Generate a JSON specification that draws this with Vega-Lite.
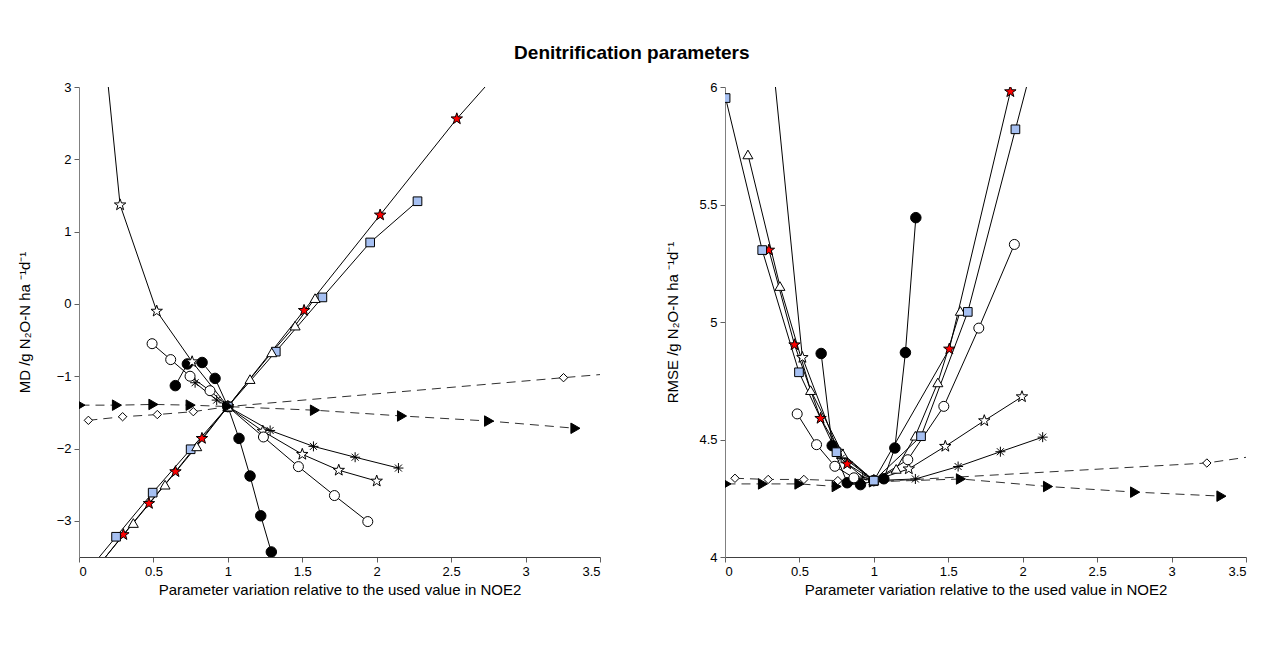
{
  "$schema": "https://vega.github.io/schema/vega-lite/v6.json",
  "background": "white",
  "padding": {"left": 17, "top": 44, "right": 5, "bottom": 5},
  "title": {"text": "Denitrification parameters", "fontSize": 19, "fontWeight": "bold", "font": "Liberation Sans", "anchor": "middle", "offset": 18, "color": "#000"},
  "config": {
    "view": {"stroke": null},
    "axis": {"grid": false, "labelFont": "Liberation Sans", "titleFont": "Liberation Sans", "labelFontSize": 13, "titleFontSize": 15, "titleFontWeight": "normal", "labelColor": "#000", "titleColor": "#000", "domainColor": "#808080", "tickColor": "#606060", "tickSize": 5, "labelPadding": 3},
    "concat": {"spacing": 64}
  },
  "data": {"values": [
      {"panel":"MD","param":"Dp","ratio":0.12,"val":-3.65},{"panel":"MD","param":"Dp","ratio":0.298,"val":-3.19},{"panel":"MD","param":"Dp","ratio":0.47,"val":-2.76},{"panel":"MD","param":"Dp","ratio":0.648,"val":-2.32},{"panel":"MD","param":"Dp","ratio":0.826,"val":-1.86},{"panel":"MD","param":"Dp","ratio":1,"val":-1.42},{"panel":"MD","param":"Dp","ratio":1.512,"val":-0.09},{"panel":"MD","param":"Dp","ratio":2.023,"val":1.23},{"panel":"MD","param":"Dp","ratio":2.538,"val":2.56},{"panel":"MD","param":"Dp","ratio":2.9,"val":3.4},
      {"panel":"MD","param":"WFPSc","ratio":0.647,"val":-1.13},{"panel":"MD","param":"WFPSc","ratio":0.728,"val":-0.83},{"panel":"MD","param":"WFPSc","ratio":0.827,"val":-0.81},{"panel":"MD","param":"WFPSc","ratio":0.914,"val":-1.03},{"panel":"MD","param":"WFPSc","ratio":1,"val":-1.42},{"panel":"MD","param":"WFPSc","ratio":1.075,"val":-1.86},{"panel":"MD","param":"WFPSc","ratio":1.149,"val":-2.38},{"panel":"MD","param":"WFPSc","ratio":1.221,"val":-2.93},{"panel":"MD","param":"WFPSc","ratio":1.292,"val":-3.43},
      {"panel":"MD","param":"KN","ratio":0.1,"val":5.0},{"panel":"MD","param":"KN","ratio":0.276,"val":1.37},{"panel":"MD","param":"KN","ratio":0.522,"val":-0.1},{"panel":"MD","param":"KN","ratio":0.76,"val":-0.8},{"panel":"MD","param":"KN","ratio":1,"val":-1.42},{"panel":"MD","param":"KN","ratio":1.235,"val":-1.76},{"panel":"MD","param":"KN","ratio":1.5,"val":-2.08},{"panel":"MD","param":"KN","ratio":1.745,"val":-2.3},{"panel":"MD","param":"KN","ratio":2.0,"val":-2.45},
      {"panel":"MD","param":"Q10d","ratio":0.78,"val":-1.09},{"panel":"MD","param":"Q10d","ratio":0.925,"val":-1.33},{"panel":"MD","param":"Q10d","ratio":1,"val":-1.42},{"panel":"MD","param":"Q10d","ratio":1.284,"val":-1.75},{"panel":"MD","param":"Q10d","ratio":1.575,"val":-1.97},{"panel":"MD","param":"Q10d","ratio":1.855,"val":-2.12},{"panel":"MD","param":"Q10d","ratio":2.146,"val":-2.27},
      {"panel":"MD","param":"cw","ratio":0.491,"val":-0.55},{"panel":"MD","param":"cw","ratio":0.616,"val":-0.77},{"panel":"MD","param":"cw","ratio":0.746,"val":-1.0},{"panel":"MD","param":"cw","ratio":0.88,"val":-1.2},{"panel":"MD","param":"cw","ratio":1,"val":-1.42},{"panel":"MD","param":"cw","ratio":1.239,"val":-1.84},{"panel":"MD","param":"cw","ratio":1.474,"val":-2.25},{"panel":"MD","param":"cw","ratio":1.716,"val":-2.65},{"panel":"MD","param":"cw","ratio":1.94,"val":-3.01},
      {"panel":"MD","param":"cN","ratio":0.0,"val":-3.84},{"panel":"MD","param":"cN","ratio":0.249,"val":-3.22},{"panel":"MD","param":"cN","ratio":0.495,"val":-2.61},{"panel":"MD","param":"cN","ratio":0.75,"val":-2.01},{"panel":"MD","param":"cN","ratio":1,"val":-1.42},{"panel":"MD","param":"cN","ratio":1.322,"val":-0.66},{"panel":"MD","param":"cN","ratio":1.635,"val":0.09},{"panel":"MD","param":"cN","ratio":1.956,"val":0.85},{"panel":"MD","param":"cN","ratio":2.274,"val":1.42},
      {"panel":"MD","param":"dN","ratio":0.063,"val":-1.61},{"panel":"MD","param":"dN","ratio":0.293,"val":-1.56},{"panel":"MD","param":"dN","ratio":0.526,"val":-1.53},{"panel":"MD","param":"dN","ratio":0.768,"val":-1.49},{"panel":"MD","param":"dN","ratio":1,"val":-1.42},{"panel":"MD","param":"dN","ratio":3.255,"val":-1.02},{"panel":"MD","param":"dN","ratio":4.0,"val":-0.89},
      {"panel":"MD","param":"r0","ratio":0.154,"val":-3.56},{"panel":"MD","param":"r0","ratio":0.365,"val":-3.03},{"panel":"MD","param":"r0","ratio":0.578,"val":-2.5},{"panel":"MD","param":"r0","ratio":0.791,"val":-1.97},{"panel":"MD","param":"r0","ratio":1,"val":-1.42},{"panel":"MD","param":"r0","ratio":1.149,"val":-1.04},{"panel":"MD","param":"r0","ratio":1.295,"val":-0.67},{"panel":"MD","param":"r0","ratio":1.452,"val":-0.3},{"panel":"MD","param":"r0","ratio":1.586,"val":0.08},
      {"panel":"MD","param":"Nc","ratio":0.01,"val":-1.4},{"panel":"MD","param":"Nc","ratio":0.255,"val":-1.4},{"panel":"MD","param":"Nc","ratio":0.5,"val":-1.39},{"panel":"MD","param":"Nc","ratio":0.75,"val":-1.4},{"panel":"MD","param":"Nc","ratio":1,"val":-1.42},{"panel":"MD","param":"Nc","ratio":1.585,"val":-1.47},{"panel":"MD","param":"Nc","ratio":2.17,"val":-1.55},{"panel":"MD","param":"Nc","ratio":2.755,"val":-1.62},{"panel":"MD","param":"Nc","ratio":3.335,"val":-1.72},
      {"panel":"RMSE","param":"Nc","ratio":0.01,"val":4.311},{"panel":"RMSE","param":"Nc","ratio":0.255,"val":4.311},{"panel":"RMSE","param":"Nc","ratio":0.5,"val":4.311},{"panel":"RMSE","param":"Nc","ratio":0.75,"val":4.3},{"panel":"RMSE","param":"Nc","ratio":1,"val":4.32},{"panel":"RMSE","param":"Nc","ratio":1.585,"val":4.332},{"panel":"RMSE","param":"Nc","ratio":2.17,"val":4.3},{"panel":"RMSE","param":"Nc","ratio":2.755,"val":4.276},{"panel":"RMSE","param":"Nc","ratio":3.335,"val":4.259},
      {"panel":"RMSE","param":"dN","ratio":0.067,"val":4.335},{"panel":"RMSE","param":"dN","ratio":0.29,"val":4.33},{"panel":"RMSE","param":"dN","ratio":0.53,"val":4.33},{"panel":"RMSE","param":"dN","ratio":0.758,"val":4.325},{"panel":"RMSE","param":"dN","ratio":1,"val":4.32},{"panel":"RMSE","param":"dN","ratio":3.237,"val":4.4},{"panel":"RMSE","param":"dN","ratio":4.0,"val":4.47},
      {"panel":"RMSE","param":"r0","ratio":0.154,"val":5.713},{"panel":"RMSE","param":"r0","ratio":0.369,"val":5.153},{"panel":"RMSE","param":"r0","ratio":0.575,"val":4.71},{"panel":"RMSE","param":"r0","ratio":0.79,"val":4.44},{"panel":"RMSE","param":"r0","ratio":1,"val":4.325},{"panel":"RMSE","param":"r0","ratio":1.15,"val":4.375},{"panel":"RMSE","param":"r0","ratio":1.279,"val":4.516},{"panel":"RMSE","param":"r0","ratio":1.43,"val":4.743},{"panel":"RMSE","param":"r0","ratio":1.581,"val":5.047},
      {"panel":"RMSE","param":"Dp","ratio":0.295,"val":5.306},{"panel":"RMSE","param":"Dp","ratio":0.467,"val":4.903},{"panel":"RMSE","param":"Dp","ratio":0.642,"val":4.59},{"panel":"RMSE","param":"Dp","ratio":0.821,"val":4.396},{"panel":"RMSE","param":"Dp","ratio":1,"val":4.325},{"panel":"RMSE","param":"Dp","ratio":1.507,"val":4.885},{"panel":"RMSE","param":"Dp","ratio":1.917,"val":5.98},
      {"panel":"RMSE","param":"WFPSc","ratio":0.646,"val":4.866},{"panel":"RMSE","param":"WFPSc","ratio":0.72,"val":4.474},{"panel":"RMSE","param":"WFPSc","ratio":0.821,"val":4.316},{"panel":"RMSE","param":"WFPSc","ratio":0.91,"val":4.308},{"panel":"RMSE","param":"WFPSc","ratio":1,"val":4.325},{"panel":"RMSE","param":"WFPSc","ratio":1.067,"val":4.333},{"panel":"RMSE","param":"WFPSc","ratio":1.141,"val":4.464},{"panel":"RMSE","param":"WFPSc","ratio":1.212,"val":4.87},{"panel":"RMSE","param":"WFPSc","ratio":1.282,"val":5.444},
      {"panel":"RMSE","param":"KN","ratio":0.276,"val":6.4},{"panel":"RMSE","param":"KN","ratio":0.52,"val":4.849},{"panel":"RMSE","param":"KN","ratio":0.76,"val":4.45},{"panel":"RMSE","param":"KN","ratio":1,"val":4.325},{"panel":"RMSE","param":"KN","ratio":1.235,"val":4.375},{"panel":"RMSE","param":"KN","ratio":1.48,"val":4.471},{"panel":"RMSE","param":"KN","ratio":1.742,"val":4.58},{"panel":"RMSE","param":"KN","ratio":1.995,"val":4.682},
      {"panel":"RMSE","param":"Q10d","ratio":0.78,"val":4.42},{"panel":"RMSE","param":"Q10d","ratio":0.925,"val":4.34},{"panel":"RMSE","param":"Q10d","ratio":1,"val":4.325},{"panel":"RMSE","param":"Q10d","ratio":1.279,"val":4.332},{"panel":"RMSE","param":"Q10d","ratio":1.566,"val":4.385},{"panel":"RMSE","param":"Q10d","ratio":1.85,"val":4.448},{"panel":"RMSE","param":"Q10d","ratio":2.134,"val":4.51},
      {"panel":"RMSE","param":"cw","ratio":0.485,"val":4.609},{"panel":"RMSE","param":"cw","ratio":0.615,"val":4.478},{"panel":"RMSE","param":"cw","ratio":0.738,"val":4.386},{"panel":"RMSE","param":"cw","ratio":0.866,"val":4.337},{"panel":"RMSE","param":"cw","ratio":1,"val":4.325},{"panel":"RMSE","param":"cw","ratio":1.228,"val":4.414},{"panel":"RMSE","param":"cw","ratio":1.47,"val":4.641},{"panel":"RMSE","param":"cw","ratio":1.705,"val":4.974},{"panel":"RMSE","param":"cw","ratio":1.944,"val":5.33},
      {"panel":"RMSE","param":"cN","ratio":0.004,"val":5.953},{"panel":"RMSE","param":"cN","ratio":0.25,"val":5.306},{"panel":"RMSE","param":"cN","ratio":0.497,"val":4.786},{"panel":"RMSE","param":"cN","ratio":0.749,"val":4.446},{"panel":"RMSE","param":"cN","ratio":1,"val":4.325},{"panel":"RMSE","param":"cN","ratio":1.317,"val":4.514},{"panel":"RMSE","param":"cN","ratio":1.631,"val":5.043},{"panel":"RMSE","param":"cN","ratio":1.951,"val":5.82},{"panel":"RMSE","param":"cN","ratio":2.274,"val":6.6}
  ]},
  "hconcat": [
    {
      "width": 521, "height": 470,
      "transform": [{"filter": "datum.panel === 'MD'"}],
      "encoding": {
        "x": {"field": "ratio", "type": "quantitative", "scale": {"domain": [0, 3.5], "nice": false, "zero": false}, "axis": {"values": [0,0.5,1,1.5,2,2.5,3,3.5], "format": "~g", "title": "Parameter variation relative to the used value in NOE2", "titlePadding": 4, "domainColor": "#404040"}},
        "y": {"field": "val", "type": "quantitative", "scale": {"domain": [-3.5, 3], "nice": false, "zero": false}, "axis": {"values": [-3,-2,-1,0,1,2,3], "format": "~g", "title": "MD /g N₂O-N ha ⁻¹d⁻¹", "titlePadding": 24}}
      },
      "layer": [
        {
          "transform": [{"filter": "datum.param !== 'dN' && datum.param !== 'Nc'"}],
          "mark": {"type": "line", "clip": true, "strokeWidth": 1, "color": "#000"},
          "encoding": {"detail": {"field": "param", "type": "nominal"}}
        },
        {
          "transform": [{"filter": "datum.param === 'dN' || datum.param === 'Nc'"}],
          "mark": {"type": "line", "clip": true, "strokeWidth": 1, "color": "#303030", "strokeDash": [9, 6]},
          "encoding": {"detail": {"field": "param", "type": "nominal"}}
        },
        {
          "mark": {"type": "point", "clip": true, "filled": true, "stroke": "#000", "strokeWidth": 1, "opacity": 1},
          "encoding": {
            "shape": {"field": "param", "type": "nominal",
              "scale": {"domain": ["Dp","WFPSc","KN","Q10d","cw","cN","dN","r0","Nc"], "range": ["M0,-1L0.2351,-0.3236L0.9511,-0.309L0.3804,0.1236L0.5878,0.809L0,0.4L-0.5878,0.809L-0.3804,0.1236L-0.9511,-0.309L-0.2351,-0.3236Z","circle","M0,-1L0.2351,-0.3236L0.9511,-0.309L0.3804,0.1236L0.5878,0.809L0,0.4L-0.5878,0.809L-0.3804,0.1236L-0.9511,-0.309L-0.2351,-0.3236Z","M-1,0L1,0M0,-1L0,1M-0.7,-0.7L0.7,0.7M-0.7,0.7L0.7,-0.7","circle","square","diamond","triangle-up","triangle-right"]},
              "legend": {"orient": "top", "direction": "horizontal", "title": null, "offset": 38, "columnPadding": 50, "labelOffset": 6, "labelFont": "Liberation Sans", "labelFontStyle": "italic", "labelFontSize": 15, "labelColor": "#000", "symbolStrokeColor": "#000", "symbolStrokeWidth": 1, "symbolSize": 110}
            },
            "fill": {"field": "param", "type": "nominal", "scale": {"domain": ["Dp","WFPSc","KN","Q10d","cw","cN","dN","r0","Nc"], "range": ["#ff0000","#000000","#ffffff","#000000","#ffffff","#a6c0f2","#ffffff","#ffffff","#000000"]},
              "legend": {"orient": "top", "direction": "horizontal", "title": null, "offset": 38, "columnPadding": 50, "labelOffset": 6, "labelFont": "Liberation Sans", "labelFontStyle": "italic", "labelFontSize": 15, "labelColor": "#000", "symbolStrokeColor": "#000", "symbolStrokeWidth": 1, "symbolSize": 110}},
            "size": {"field": "param", "type": "nominal", "scale": {"type": "ordinal", "domain": ["Dp","WFPSc","KN","Q10d","cw","cN","dN","r0","Nc"], "range": [144,110,144,100,100,75,70,100,110]}, "legend": null}
          }
        }
      ]
    },
    {
      "width": 521, "height": 470,
      "transform": [{"filter": "datum.panel === 'RMSE'"}],
      "encoding": {
        "x": {"field": "ratio", "type": "quantitative", "scale": {"domain": [0, 3.5], "nice": false, "zero": false}, "axis": {"values": [0,0.5,1,1.5,2,2.5,3,3.5], "format": "~g", "title": "Parameter variation relative to the used value in NOE2", "titlePadding": 4, "domainColor": "#404040"}},
        "y": {"field": "val", "type": "quantitative", "scale": {"domain": [4, 6], "nice": false, "zero": false}, "axis": {"values": [4,4.5,5,5.5,6], "format": "~g", "title": "RMSE /g N₂O-N ha ⁻¹d⁻¹", "titlePadding": 18}}
      },
      "layer": [
        {
          "transform": [{"filter": "datum.param !== 'dN' && datum.param !== 'Nc'"}],
          "mark": {"type": "line", "clip": true, "strokeWidth": 1, "color": "#000"},
          "encoding": {"detail": {"field": "param", "type": "nominal"}}
        },
        {
          "transform": [{"filter": "datum.param === 'dN' || datum.param === 'Nc'"}],
          "mark": {"type": "line", "clip": true, "strokeWidth": 1, "color": "#303030", "strokeDash": [9, 6]},
          "encoding": {"detail": {"field": "param", "type": "nominal"}}
        },
        {
          "mark": {"type": "point", "clip": true, "filled": true, "stroke": "#000", "strokeWidth": 1, "opacity": 1},
          "encoding": {
            "shape": {"field": "param", "type": "nominal",
              "scale": {"domain": ["Dp","WFPSc","KN","Q10d","cw","cN","dN","r0","Nc"], "range": ["M0,-1L0.2351,-0.3236L0.9511,-0.309L0.3804,0.1236L0.5878,0.809L0,0.4L-0.5878,0.809L-0.3804,0.1236L-0.9511,-0.309L-0.2351,-0.3236Z","circle","M0,-1L0.2351,-0.3236L0.9511,-0.309L0.3804,0.1236L0.5878,0.809L0,0.4L-0.5878,0.809L-0.3804,0.1236L-0.9511,-0.309L-0.2351,-0.3236Z","M-1,0L1,0M0,-1L0,1M-0.7,-0.7L0.7,0.7M-0.7,0.7L0.7,-0.7","circle","square","diamond","triangle-up","triangle-right"]},
              "legend": {"orient": "top", "direction": "horizontal", "title": null, "offset": 38, "columnPadding": 50, "labelOffset": 6, "labelFont": "Liberation Sans", "labelFontStyle": "italic", "labelFontSize": 15, "labelColor": "#000", "symbolStrokeColor": "#000", "symbolStrokeWidth": 1, "symbolSize": 110}},
            "fill": {"field": "param", "type": "nominal", "scale": {"domain": ["Dp","WFPSc","KN","Q10d","cw","cN","dN","r0","Nc"], "range": ["#ff0000","#000000","#ffffff","#000000","#ffffff","#a6c0f2","#ffffff","#ffffff","#000000"]},
              "legend": {"orient": "top", "direction": "horizontal", "title": null, "offset": 38, "columnPadding": 50, "labelOffset": 6, "labelFont": "Liberation Sans", "labelFontStyle": "italic", "labelFontSize": 15, "labelColor": "#000", "symbolStrokeColor": "#000", "symbolStrokeWidth": 1, "symbolSize": 110}},
            "size": {"field": "param", "type": "nominal", "scale": {"type": "ordinal", "domain": ["Dp","WFPSc","KN","Q10d","cw","cN","dN","r0","Nc"], "range": [144,110,144,100,100,75,70,100,110]}, "legend": null}
          }
        }
      ]
    }
  ]
}
